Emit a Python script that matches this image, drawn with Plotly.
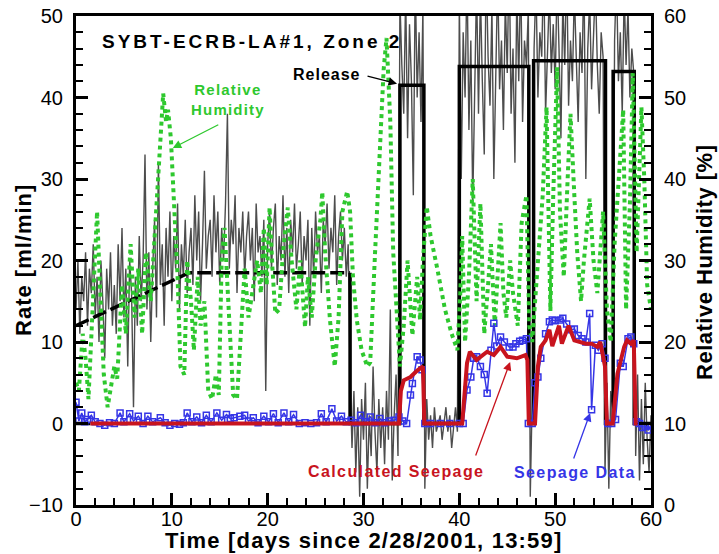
import numpy as np
import plotly.graph_objects as go

FONT = "Liberation Sans, Arial, sans-serif"

# ---------------- data ----------------
# measured rate (gray), sampled every 0.2 day from t=0 to 60
gray_rate = [
    14, 20, 11, 18, 15, 21, 12, 19, 16, 22,
    13, 18, 10, 20, 15, 8, 19, 14, 21, 12,
    17, 11, 22, 15, 24, 13, 19, 7, 20, 16,
    2, 18, 12, 23, 15, 20, 33, 14, 21, 10,
    19, 25, 13, 32, 17, 22, 12, 24, 18, 26,
    15, 23, 19, 27, 14, 22, 18, 25, 16, 21,
    24, 17, 28, 20, 26, 15, 22, 31, 19, 23,
    25, 18, 28, 21, 26, 17, 24, 20, 27, 38,
    19, 25, 22, 28, 16, 24, 21, 26, 18, 23,
    26, 20, 24, 15, 27, 21, 23, 18, 25, 4,
    22, 26, 19, 24, 27, 17, 23, 20, 28, 18,
    24, 16, 25, 21, 27, 19, 22, 26, 17, 23,
    20, 25, 12, 24, 18, 26, 21, 23, 16, 25,
    22, 27, 19, 24, 21, 28, 17, 23, 26, 20,
    24, 18, 22, 6, -3, 4, -6, 2, -9, 3,
    -2, 5, -8, 1, -4, 7, -1, -6, 3, -3,
    2, -5, 4, -2, 14, -7, 1, 6, -4, 52,
    44, 38, 53, 35, 49, 42, 28, 55, 40, 48,
    37, 51, -8, 3, -2, 1, -3, 2, -1, 0,
    1, -2, 0, 2, -1, 1, -3, 0, 2, -1,
    52, 30, 48, 40, 56, 36, 47, 27, 44, 54,
    38, 53, 42, 33, 57, 45, 39, 51, 30, 46,
    55, 41, 47, 36, 52, 43, 58, 38, 46, 32,
    53, 42, 56, 37, 47, 44, 51, -9, 3, 46,
    54, 40, 48, 45, 57, 38, 47, 53, 43, 49,
    41, 55, 46, 35, 52, 44, 57, 39, 47, 42,
    53, 45, 37, 48, 43, 56, 30, 46, 52, 41,
    47, 54, 44, 38, 48, 45, -6, 5, -8, 4,
    2, 47, 55, 42, 48, 38, 53, 44, 51, 40,
    46, 43, -4, 6, -7, 3, -5, 5, -2, -6,
    1,
]
gray_t = np.round(np.arange(len(gray_rate)) * 0.2, 1)

# release rate (black): estimated ramp (dashed) and measured steps (solid)
rel_est_t = [0.0, 11.8, 28.6]
rel_est_r = [12.0, 18.5, 18.5]
rel_t = [0.0, 1.5, None, 28.6, 28.6, 33.8, 33.8, 36.3, 36.3, 40.0, 40.0, 47.25, 47.25,
         47.75, 47.75, 55.25, 55.25, 56.05, 56.05, 58.25, 58.25, 60.0]
rel_r = [0.0, 0.0, None, 18.5, 0.0, 0.0, 41.5, 41.5, 0.0, 0.0, 43.8, 43.8, 0.0,
         0.0, 44.5, 44.5, 0.0, 0.0, 43.2, 43.2, 0.0, 0.0]

# relative humidity (green, right axis, %)
rh_t = [0.0, 0.3, 0.7, 1.0, 1.3, 1.7, 2.2, 2.5, 2.9, 3.3, 3.7, 4.0, 4.3, 4.8, 5.2, 5.7,
        6.1, 6.5, 6.9, 7.3, 7.8, 8.3, 8.7, 9.1, 9.4, 9.6, 9.9, 10.3, 10.6, 10.9, 11.3,
        11.6, 12.0, 12.3, 12.7, 13.0, 13.4, 13.8, 14.2, 14.6, 14.9, 15.2, 15.5, 15.8,
        16.1, 16.4, 16.8, 17.2, 17.6, 18.0, 18.4, 18.9, 19.3, 19.6, 19.9, 20.2, 20.5,
        20.8, 21.2, 21.6, 22.1, 22.5, 23.0, 23.4, 23.9, 24.2, 24.6, 25.0, 25.5, 25.7,
        26.0, 26.5, 27.0, 27.4, 27.8, 28.3, 28.6, 28.9, 29.3, 29.8, 30.4, 30.7, 31.2,
        31.7, 32.1, 32.4, 32.8, 33.1, 33.5, 33.8, 34.2, 34.6, 35.1, 35.6, 35.9, 36.2,
        36.6, 37.0, 37.7, 38.5, 39.2, 39.8, 40.1, 40.3, 40.6, 41.0, 41.4, 41.8, 42.2,
        42.6, 43.0, 43.3, 43.7, 44.3, 44.6, 44.9, 45.3, 45.6, 46.1, 46.5, 47.0, 47.3,
        47.6, 48.0, 48.3, 48.7, 49.1, 49.5, 49.8, 50.2, 50.5, 50.9, 51.3, 51.6, 52.0,
        52.3, 52.7, 53.0, 53.6, 54.0, 54.4, 54.8, 55.0, 55.4, 55.8, 56.2, 56.6, 57.1,
        57.4, 57.8, 58.1, 58.5, 59.0, 59.3, 59.6, 60.0]
rh_v = [15, 14, 21, 18, 13, 24, 36, 27, 16, 12, 15, 17, 15.5, 27, 21, 32,
        23, 29, 21, 31, 25, 35, 41, 50.5, 47, 48.5, 45, 36, 28, 17, 16,
        30, 25, 19, 28, 22, 25, 14, 13, 16, 13.5, 30, 34, 27,
        20, 13.5, 13, 22, 29, 23, 26, 30, 26, 34, 27, 36.5, 29,
        23.5, 24, 31, 36.5, 30, 24, 30, 21.8, 28, 23, 30, 35, 38.4,
        31, 22.7, 17, 23, 36, 38.5, 36, 28, 22.7, 19, 17, 17.5, 30.8,
        43, 53.4, 57.3, 47, 31, 22.7, 17, 22, 30, 20.8, 28, 22.7, 30,
        36.6, 33, 29, 24, 21, 19, 26, 33, 20, 28, 40, 25, 37,
        21, 27, 32, 22, 34.6, 26, 23, 30, 26, 22, 34.6, 38, 22,
        20, 26, 31, 38, 48.8, 23.8, 38, 53.7, 36, 28, 40, 48, 38,
        31, 25, 30, 37.6, 30, 26, 34, 36, 24, 20, 32, 40, 48.5,
        24, 37, 53, 31, 48.8, 40, 27, 24]

# seepage data (blue squares)
seep_t = [0.0, 0.3, 0.6, 0.9, 1.2, 1.6, 2.0, 2.5, 3.0, 3.5, 4.0, 4.6, 5.0, 5.6, 6.0,
          6.5, 7.0, 7.5, 8.0, 8.8, 9.3, 9.8, 10.3, 10.8, 11.2, 11.6, 12.1, 12.6, 13.1,
          13.6, 14.1, 14.7, 15.2, 15.7, 16.1, 16.5, 17.1, 17.6, 18.0, 18.5, 19.0, 19.6,
          20.1, 20.6, 21.1, 21.7, 22.2, 22.7, 23.3, 23.9, 24.5, 25.1, 25.6, 26.1, 26.7,
          27.2, 27.7, 28.2, 28.7, 29.2, 29.7, 30.2, 30.7, 31.2, 31.7, 32.2, 32.7, 33.2,
          33.7, 34.1, 34.5, 34.9, 35.1, 35.6, 35.9, 36.1, 36.4, 37.0, 38.0, 39.0, 40.0,
          40.4, 40.8, 41.2, 41.5, 41.8, 42.2, 42.6, 42.9, 43.3, 43.6, 43.9, 44.3, 44.7,
          45.2, 45.6, 45.9, 46.3, 46.6, 47.0, 47.2, 47.6, 47.9, 48.2, 48.5, 49.0, 49.4,
          49.7, 50.0, 50.5, 50.8, 51.2, 51.7, 52.0, 52.4, 52.8, 53.2, 53.6, 53.8, 54.2,
          54.5, 54.9, 55.2, 55.5, 55.9, 56.3, 56.8, 57.1, 57.6, 57.9, 58.2, 58.5, 58.8,
          59.1, 59.4, 59.7, 60.0]
seep_r = [2.6, 0.3, 1.3, 0.2, 0.5, 1.0, 0.2, 0.0, -0.2, 0.1, 0.0, 1.3, 0.2, 1.2, 0.3,
          0.9, 0.0, 0.9, 0.2, 0.7, 0.1, -0.2, 0.0, -0.1, 0.1, 1.3, 0.2, 0.8, 0.1,
          1.0, 0.2, 1.3, 0.4, 1.1, 0.6, 0.7, 0.9, 1.0, 0.3, 0.7, 0.1, 0.9,
          0.2, 1.2, 0.1, 1.3, 0.2, 1.1, 0.0, 0.1, 0.0, 0.1, 1.2, 0.2, 1.8,
          0.3, 0.9, 0.2, 0.4, 0.1, 1.0, 0.2, 0.8, 0.1, 0.6, 0.1, 0.3, 0.4,
          0.8, 0.3, 0.0, 3.5, 4.9, 8.2, 7.8, 6.6, 0.0, 0.0, 0.0, 0.0, 0.0,
          0.0, 4.1, 5.7, 8.0, 8.2, 7.0, 6.0, 3.7, 9.0, 12.3, 9.5, 10.6, 10.0,
          9.4, 9.4, 9.8, 10.1, 10.2, 10.4, 0.0, 0.0, 5.0, 5.7, 8.0, 11.0, 12.5,
          12.7, 12.6, 12.7, 12.9, 12.2, 11.5, 11.6, 10.8, 10.4, 10.0, 13.5, 1.7, 9.6,
          9.0, 9.8, 8.0, 0.0, 0.0, 0.5, 7.4, 7.0, 10.4, 10.6, 9.8, 0.2, 0.0,
          -0.5, -0.3, -0.8, -0.3]

# calculated seepage (red)
calc_t = [1.5, 33.7, 33.9, 34.2, 34.9, 35.6, 36.2, 36.35, 40.3, 40.8, 41.1, 41.8, 42.9,
          43.6, 44.3, 45.0, 46.0, 46.9, 47.1, 47.25, 47.9, 48.2, 48.5, 49.0, 49.4, 49.7,
          50.4, 50.7, 51.4, 52.0, 53.2, 53.8, 54.4, 54.7, 55.2, 55.4, 56.0, 56.5, 57.2,
          57.5, 57.9, 58.2, 58.4, 58.6]
calc_r = [0.0, 0.0, 4.0, 5.3, 5.7, 6.5, 7.0, 0.0, 0.0, 7.4, 8.8, 7.8, 8.8,
          8.4, 9.4, 8.2, 8.0, 8.4, 7.8, 0.0, 0.0, 7.0, 9.4, 10.2, 11.5, 9.5,
          12.0, 9.8, 12.0, 10.2, 9.8, 9.8, 9.4, 10.0, 7.0, 0.0, 0.0, 6.1, 9.4,
          10.2, 9.8, 10.2, 0.0, 0.0]

x_ticks = [0, 10, 20, 30, 40, 50, 60]
y_ticks = [-10, 0, 10, 20, 30, 40, 50]
rh_ticks = [0, 10, 20, 30, 40, 50, 60]

GREEN = "#2ec82e"
BLUE = "#3535e6"
RED = "#c8141e"

fig = go.Figure()
fig.add_trace(go.Scatter(x=gray_t, y=gray_rate, mode="lines",
                         line=dict(color="#4d4d4d", width=1.4), yaxis="y"))
fig.add_trace(go.Scatter(x=rel_est_t, y=rel_est_r, mode="lines",
                         line=dict(color="black", width=3.5, dash="14px,5px"), yaxis="y"))
fig.add_trace(go.Scatter(x=rel_t, y=rel_r, mode="lines", connectgaps=False,
                         line=dict(color="black", width=3.5), yaxis="y"))
fig.add_trace(go.Scatter(x=rh_t, y=rh_v, mode="lines",
                         line=dict(color=GREEN, width=4, dash="4px,4px"), yaxis="y2"))
fig.add_trace(go.Scatter(x=seep_t, y=seep_r, mode="lines+markers",
                         line=dict(color=BLUE, width=1.5),
                         marker=dict(symbol="square-open", size=6, color=BLUE,
                                     line=dict(width=1.5, color=BLUE)), yaxis="y3"))
fig.add_trace(go.Scatter(x=calc_t, y=calc_r, mode="lines",
                         line=dict(color=RED, width=4), yaxis="y3"))

axis_common = dict(showline=True, linecolor="black", linewidth=3, ticks="inside",
                   ticklen=12, tickwidth=3, tickcolor="black", showgrid=False,
                   zeroline=False, automargin=False,
                   tickfont=dict(family=FONT, size=20, color="black"))
minor_common = dict(dtick=2, ticks="inside", ticklen=7, tickwidth=1.5, tickcolor="black")

fig.update_layout(
    width=719, height=554,
    margin=dict(l=76, r=68, t=16, b=49),
    paper_bgcolor="white", plot_bgcolor="white",
    showlegend=False,
    xaxis=dict(range=[0, 60], tickvals=x_ticks, mirror=True, ticklabelstandoff=-6,
               minor=minor_common, **axis_common),
    yaxis=dict(range=[-10, 50], tickvals=y_ticks, mirror=True, ticklabelstandoff=6,
               minor=minor_common, **axis_common),
    yaxis2=dict(range=[0, 60], tickvals=rh_ticks, overlaying="y", side="right",
                ticklabelstandoff=6, minor=minor_common, **axis_common),
    yaxis3=dict(matches="y", overlaying="y", visible=False),
)

def txt(s, spacing):
    return f'<span style="letter-spacing:{spacing}px"><b>{s}</b></span>'

annotations = [
    # axis titles
    dict(x=0.5, y=-0.0716, xref="paper", yref="paper", xanchor="center", yanchor="middle",
         text=txt("Time [days since 2/28/2001, 13:59]", 1.2), showarrow=False,
         font=dict(family=FONT, size=22, color="black")),
    dict(x=-0.0922, y=0.501, xref="paper", yref="paper", xanchor="center", yanchor="middle",
         text=txt("Rate [ml/min]", 1), showarrow=False, textangle=-90,
         font=dict(family=FONT, size=22, color="black")),
    dict(x=1.0939, y=0.497, xref="paper", yref="paper", xanchor="center", yanchor="middle",
         text=txt("Relative Humidity [%]", 0.5), showarrow=False, textangle=-90,
         font=dict(family=FONT, size=22, color="black")),
    # labels
    dict(x=2.5, y=46.9, xref="x", yref="y", xanchor="left", yanchor="middle",
         text=txt("SYBT-ECRB-LA#1, Zone 2", 3), showarrow=False,
         font=dict(family=FONT, size=19, color="black")),
    dict(x=26.2, y=42.8, xref="x", yref="y", text=txt("Release", 1), showarrow=False,
         font=dict(family=FONT, size=16, color="black")),
    dict(x=15.9, y=39.7, xref="x", yref="y", text=txt("Relative<br>Humidity", 1.2),
         showarrow=False, font=dict(family=FONT, size=15, color=GREEN)),
    dict(x=33.4, y=-5.95, xref="x", yref="y", text=txt("Calculated Seepage", 1.4),
         showarrow=False, font=dict(family=FONT, size=16, color=RED)),
    dict(x=52.1, y=-6.07, xref="x", yref="y", text=txt("Seepage Data", 1.4),
         showarrow=False, font=dict(family=FONT, size=16, color=BLUE)),
    # arrows
    dict(x=33.5, y=41.7, xref="x", yref="y", text="", showarrow=True, ax=-31, ay=-8,
         arrowhead=2, arrowsize=1.3, arrowwidth=1.3, arrowcolor="black"),
    dict(x=10.1, y=33.8, xref="x", yref="y", text="", showarrow=True, ax=47, ay=-24,
         arrowhead=2, arrowsize=1.3, arrowwidth=1.3, arrowcolor=GREEN),
    dict(x=45.3, y=7.55, xref="x", yref="y", text="", showarrow=True, ax=-35, ay=95,
         arrowhead=2, arrowsize=1.3, arrowwidth=1.3, arrowcolor=RED),
    dict(x=53.65, y=1.3, xref="x", yref="y", text="", showarrow=True, ax=-17, ay=47,
         arrowhead=2, arrowsize=1.3, arrowwidth=1.3, arrowcolor=BLUE),
]
fig.update_layout(annotations=annotations)

fig.write_html("out.html")
